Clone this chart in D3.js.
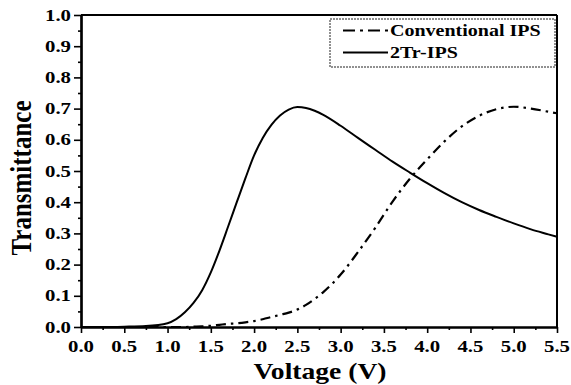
<!DOCTYPE html>
<html>
<head>
<meta charset="utf-8">
<script src="https://cdn.jsdelivr.net/npm/d3@7"></script>
<style>
html,body{margin:0;padding:0;background:#fff;}
svg{display:block;}
text{font-family:"Liberation Serif","Times New Roman",serif;font-weight:bold;fill:#000;}
</style>
</head>
<body>
<svg id="chart" width="571" height="385"></svg>
<script>
// ---- data ----
const voltage = [0,0.25,0.5,0.75,1.0,1.1,1.2,1.3,1.4,1.5,1.6,1.7,1.8,1.9,2.0,2.1,2.2,2.3,2.4,2.5,2.6,2.7,2.8,3.0,3.2,3.4,3.6,3.8,4.0,4.2,4.4,4.6,4.8,5.0,5.2,5.4,5.5];
const twoTrIPS = [0,0,0.001,0.003,0.012,0.025,0.047,0.077,0.118,0.175,0.245,0.322,0.40,0.477,0.55,0.606,0.648,0.678,0.697,0.705,0.702,0.693,0.68,0.645,0.606,0.568,0.53,0.495,0.461,0.429,0.40,0.375,0.353,0.332,0.313,0.297,0.289];
const conventionalIPS = [0,0,0,0,0,0,0,0.001,0.002,0.004,0.007,0.01,0.012,0.015,0.019,0.025,0.032,0.039,0.046,0.056,0.071,0.09,0.112,0.168,0.24,0.318,0.402,0.475,0.537,0.595,0.643,0.677,0.698,0.706,0.70,0.69,0.685];
const xTicks = [0,0.5,1.0,1.5,2.0,2.5,3.0,3.5,4.0,4.5,5.0,5.5];
const yTicks = [0,0.1,0.2,0.3,0.4,0.5,0.6,0.7,0.8,0.9,1.0];
const seriesNames = ["Conventional IPS","2Tr-IPS"];

// ---- layout ----
const L = 81, R = 557, T = 15, B = 327;
const SX = 1.3; // horizontal stretch of glyphs
const svg = d3.select("#chart");
const x = d3.scaleLinear().domain([0,5.5]).range([L,R]);
const y = d3.scaleLinear().domain([0,1]).range([B,T]);

const xMinor = d3.range(0.25, 5.5, 0.5);
const yMinor = d3.range(0.05, 1.0, 0.1);

const gx = svg.append("g").attr("transform",`translate(0,${B})`)
  .call(d3.axisBottom(x).tickValues(xTicks).tickFormat("").tickSize(6).tickSizeOuter(0));
const gxm = svg.append("g").attr("transform",`translate(0,${B})`)
  .call(d3.axisBottom(x).tickValues(xMinor).tickFormat("").tickSize(3).tickSizeOuter(0));
const gy = svg.append("g").attr("transform",`translate(${L},0)`)
  .call(d3.axisLeft(y).tickValues(yTicks).tickFormat("").tickSize(7).tickSizeOuter(0));
const gym = svg.append("g").attr("transform",`translate(${L},0)`)
  .call(d3.axisLeft(y).tickValues(yMinor).tickFormat("").tickSize(3).tickSizeOuter(0));
[gx,gxm,gy,gym].forEach(g=>{
  g.selectAll("line").attr("stroke","#000").attr("stroke-width",1.6);
  g.select(".domain").attr("stroke","#000").attr("stroke-width",2.2);
});
svg.append("line").attr("x1",L).attr("x2",R).attr("y1",T).attr("y2",T).attr("stroke","#000").attr("stroke-width",2);
svg.append("line").attr("x1",R).attr("x2",R).attr("y1",T).attr("y2",B).attr("stroke","#000").attr("stroke-width",2);

// tick labels
svg.append("g").selectAll("text").data(xTicks).join("text")
  .attr("transform",d=>`translate(${x(d)},352) scale(${SX},1)`)
  .attr("text-anchor","middle").attr("font-size",16)
  .text(d=>d.toFixed(1));
svg.append("g").selectAll("text").data(yTicks).join("text")
  .attr("transform",d=>`translate(71,${y(d)}) scale(${SX},1)`)
  .attr("text-anchor","end").attr("dy","0.35em").attr("font-size",16)
  .text(d=>d.toFixed(1));

// axis titles
svg.append("text").attr("transform",`translate(320,379) scale(1.2,1)`)
  .attr("text-anchor","middle").attr("font-size",23).text("Voltage (V)");
svg.append("text").attr("transform",`translate(31,178) rotate(-90) scale(1,1.22)`)
  .attr("text-anchor","middle").attr("font-size",25).text("Transmittance");

// curves
const line = d3.line().x((d,i)=>x(voltage[i])).y(d=>y(d)).curve(d3.curveMonotoneX);
const plot = svg.append("g");
plot.append("path").attr("d",line(twoTrIPS)).attr("fill","none").attr("stroke","#000").attr("stroke-width",2);
plot.append("path").attr("d",line(conventionalIPS)).attr("fill","none").attr("stroke","#000")
  .attr("stroke-width",2.2).attr("stroke-dasharray","10,5,2.5,5");

// legend
const lg = svg.append("g");
lg.append("rect").attr("x",330).attr("y",19).attr("width",225).attr("height",48)
  .attr("fill","#fff").attr("stroke","#222").attr("stroke-width",1).attr("stroke-dasharray","2,1");
const legRows = [{name:seriesNames[0],dash:"12,5,3,5",ly:30.5,ty:36},{name:seriesNames[1],dash:null,ly:52.5,ty:58}];
legRows.forEach(r=>{
  const l = lg.append("line").attr("x1",343).attr("x2",388).attr("y1",r.ly).attr("y2",r.ly)
    .attr("stroke","#000").attr("stroke-width",2);
  if(r.dash) l.attr("stroke-dasharray",r.dash);
  lg.append("text").attr("transform",`translate(390,${r.ty}) scale(1.25,1)`)
    .attr("font-size",16).text(r.name);
});
</script>
</body>
</html>
